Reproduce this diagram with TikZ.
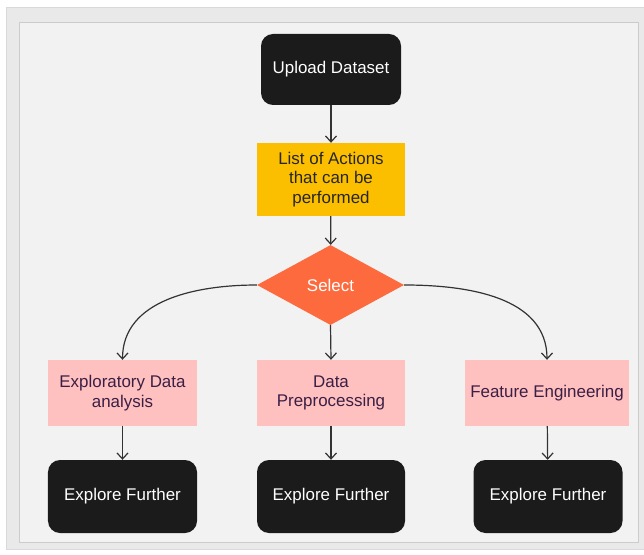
\documentclass[tikz,border=0pt]{standalone}
\usepackage{fontspec}
\setmainfont{Liberation Sans}
\usetikzlibrary{shapes.geometric,arrows.meta}

\definecolor{framegray}{HTML}{E9E9E9}
\definecolor{panelgray}{HTML}{F2F2F2}
\definecolor{boxblack}{HTML}{1B1B1B}
\definecolor{actionyellow}{HTML}{FCBF00}
\definecolor{selectorange}{HTML}{FD6A3E}
\definecolor{taskpink}{HTML}{FFC0C0}
\definecolor{tasktext}{HTML}{3A1F45}
\definecolor{linkgray}{HTML}{333333}

\tikzset{
  darkbox/.style={rectangle, rounded corners=12bp, fill=boxblack, text=white,
    minimum width=149bp, minimum height=73bp},
  actionbox/.style={rectangle, fill=actionyellow, text=black!85,
    minimum width=148bp, minimum height=73bp},
  choice/.style={diamond, fill=selectorange, text=white, inner sep=0pt,
    minimum width=147bp, minimum height=80bp},
  taskbox/.style={rectangle, fill=taskpink, text=tasktext,
    minimum width=149bp, minimum height=66bp},
  link/.style={draw=linkgray, line width=1.2bp,
    -{Straight Barb[length=6bp,width=11bp]}}
}

\begin{document}
\begin{tikzpicture}[x=1bp, y=-1bp,
    every node/.style={font=\fontsize{17}{19.5}\selectfont, align=center}]
  \useasboundingbox (0,0) rectangle (644,555);

  % frame and panel
  \draw[fill=framegray, draw=black!15] (6,7) rectangle (644,549);
  \draw[fill=panelgray, draw=black!20] (19,22) rectangle (638,542);

  % top of the flow
  \node[darkbox, minimum width=140bp, minimum height=71bp] (upload) at (331,69.5) {Upload Dataset};
  \node[actionbox] (actions) at (331,179.5) {List of Actions\\that can be\\performed};
  \node[choice] (select) at (330.5,285) {Select};

  % the three branches
  \node[taskbox] (eda) at (122.5,393) {Exploratory Data\\analysis};
  \node[taskbox, minimum width=148bp] (prep) at (331,393) {Data\\Preprocessing};
  \node[taskbox, minimum width=164bp] (feat) at (547,393) {Feature Engineering};

  \node[darkbox] (further1) at (122.5,496.5) {Explore Further};
  \node[darkbox, minimum width=148bp] (further2) at (331,496.5) {Explore Further};
  \node[darkbox] (further3) at (548,496.5) {Explore Further};

  % connectors
  \draw[link] (upload) -- (actions);
  \draw[link] (actions) -- (select);
  \draw[link] (select.west) to[out=180, in=90] (eda.north);
  \draw[link] (select.south) -- (prep.north);
  \draw[link] (select.east) to[out=0, in=90] (feat.north);
  \draw[link] (eda) -- (further1);
  \draw[link] (prep) -- (further2);
  \draw[link] (feat) -- (further3);
\end{tikzpicture}
\end{document}
